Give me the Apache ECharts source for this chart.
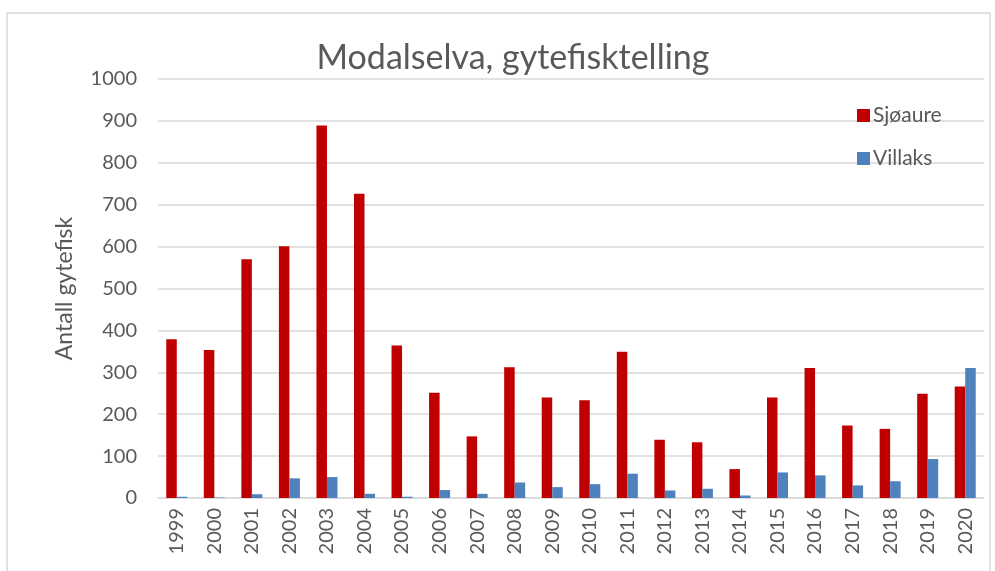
<!DOCTYPE html>
<html>
<head>
<meta charset="utf-8">
<script src="https://cdn.jsdelivr.net/npm/echarts@6/dist/echarts.min.js"></script>
<style>
  html, body { margin: 0; padding: 0; background: #fff; }
  #chart { width: 995px; height: 571px; }
</style>
</head>
<body>
<div id="chart"></div>
<script>
    "use strict";

    var years = ['1999', '2000', '2001', '2002', '2003', '2004', '2005', '2006', '2007', '2008', '2009',
        '2010', '2011', '2012', '2013', '2014', '2015', '2016', '2017', '2018', '2019', '2020'];
    // sjøaure (sea trout)
    var sjoaure = [379, 353, 570, 601, 889, 726, 364, 251, 147, 312, 240,
        233, 349, 139, 133, 69, 240, 310, 173, 165, 249, 266];
    // villaks (wild salmon)
    var villaks = [3, 1, 9, 47, 50, 10, 3, 19, 10, 37, 26,
        33, 58, 18, 22, 6, 61, 54, 30, 40, 93, 310];
    var yTicks = {min: 0, max: 1000, interval: 100};

    var fontFam = 'Lato, "Open Sans", sans-serif';
    var chart = echarts.init(document.getElementById('chart'));

    chart.setOption({
        animation: false,
        title: {
            text: 'Modalselva, gytefisktelling',
            left: 508,
            top: 36,
            textAlign: 'center',
            textStyle: {color: '#595959', fontSize: 34, fontWeight: 'normal', fontFamily: fontFam}
        },
        graphic: [{
            type: 'rect',
            shape: {x: 7, y: 13, width: 983, height: 580},
            style: {fill: 'none', stroke: '#d9d9d9', lineWidth: 1.5},
            silent: true
        }],
        legend: {
            orient: 'vertical',
            left: 852,
            top: 100,
            itemWidth: 13,
            itemHeight: 13,
            itemGap: 22,
            icon: 'rect',
            textStyle: {color: '#595959', fontSize: 21, fontFamily: fontFam, padding: [0, 0, 0, -2]},
            data: ['Sjøaure', 'Villaks']
        },
        grid: {left: 158, right: 11, top: 79, bottom: 73},
        xAxis: {
            type: 'category',
            data: years,
            axisLine: {lineStyle: {color: '#d9d9d9', width: 1.5}},
            axisTick: {show: false},
            axisLabel: {rotate: 90, color: '#595959', fontSize: 20, fontFamily: fontFam, margin: 10}
        },
        yAxis: {
            type: 'value',
            min: yTicks.min,
            max: yTicks.max,
            interval: yTicks.interval,
            name: 'Antall gytefisk',
            nameLocation: 'middle',
            nameGap: 82,
            nameTextStyle: {color: '#595959', fontSize: 23, fontFamily: fontFam},
            axisLine: {show: false},
            axisTick: {show: false},
            axisLabel: {
                color: '#595959', fontSize: 20, fontFamily: fontFam, margin: 21,
                formatter: function (v) { return String(v); }
            },
            splitLine: {lineStyle: {color: '#d9d9d9', width: 1.5}}
        },
        series: [{
            name: 'Sjøaure',
            type: 'bar',
            data: sjoaure,
            barGap: '0%',
            barCategoryGap: '44%',
            itemStyle: {color: '#C00000'}
        }, {
            name: 'Villaks',
            type: 'bar',
            data: villaks,
            itemStyle: {color: '#4F81BD'}
        }]
    });
</script>
</body>
</html>
